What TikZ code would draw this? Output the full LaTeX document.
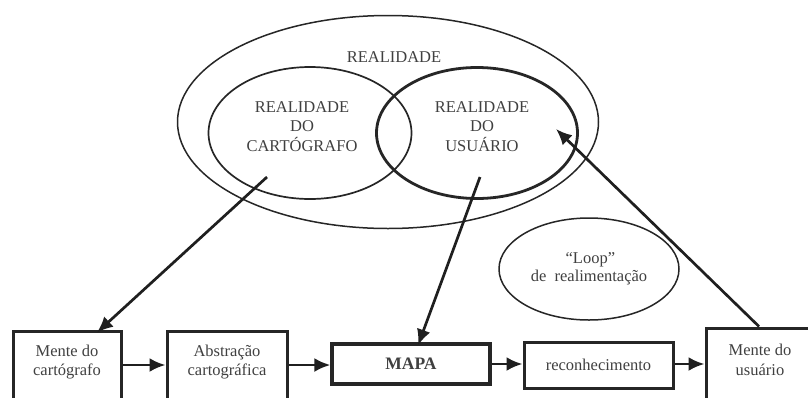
\documentclass[tikz,border=0pt]{standalone}
\usepackage{fontspec}
\setmainfont{Liberation Serif}
\usetikzlibrary{arrows.meta,shapes.geometric}
\begin{document}
\begin{tikzpicture}[x=1pt,y=-1pt,
  txt/.style={text=black!75, font=\fontsize{16.5}{19.5}\selectfont, align=center, inner sep=0pt},
  ell/.style={draw=black!85, ellipse, inner sep=0pt, line width=1.5pt},
  box/.style={draw=black!85, rectangle, line width=3pt, inner sep=0pt},
  arr/.style={draw=black!88, line width=2.7pt, -{Latex[length=16pt,width=14pt]}}]
\useasboundingbox (0,0) rectangle (808,397);
\clip (0,0) rectangle (808,397);
\fill[white] (0,0) rectangle (808,397);
% ellipses
\node[ell, minimum width=421pt, minimum height=213pt] (real) at (388,122) {};
\node[ell, line width=1.7pt, minimum width=203pt, minimum height=132pt] (rc) at (310,133) {};
\node[ell, line width=2.8pt, minimum width=201pt, minimum height=131pt] (ru) at (477,133) {};
\node[ell, minimum width=180pt, minimum height=102pt, txt, draw=black!85] (loop) at (589,269) {\,“Loop”\\[-1pt]de\ \ realimentação};
% ellipse texts
\node[txt] (treal) at (394,57) {REALIDADE};
\node[txt] (trc) at (302,126.5) {REALIDADE\\DO\\CARTÓGRAFO};
\node[txt] (tru) at (482,126.5) {REALIDADE\\DO\\USUÁRIO};
% boxes
\node[box, minimum width=108pt, minimum height=72pt] (b1) at (67,367) {};
\node[txt] (tb1) at (67,362) {Mente do\\cartógrafo};
\node[box, minimum width=120pt, minimum height=72pt] (b2) at (227,367) {};
\node[txt] (tb2) at (227,362) {Abstração\\cartográfica};
\node[box, line width=3.3pt, minimum width=158pt, minimum height=40pt, txt, draw=black!85, font=\fontsize{17.5}{20}\selectfont\bfseries] (mapa) at (411,364) {MAPA};
\node[box, minimum width=149pt, minimum height=46pt, txt, draw=black!85] (rec) at (598.5,365) {reconhecimento};
\node[box, minimum width=106pt, minimum height=76pt] (b5) at (759,366) {};
\node[txt] (tb5) at (760,360) {Mente do\\usuário};
% arrows
\coordinate (s1) at (267,177);
\coordinate (s2) at (480,177);
\coordinate (t3) at (556,129);
\draw[arr] (s1) -- ([xshift=30pt,yshift=-3pt]b1.north);
\draw[arr] (s2) -- ([xshift=7pt,yshift=-3pt]mapa.north);
\draw[arr] (b5.north) -- (t3);
\draw[arr] (b1.east |- 0,365) -- (b2.west |- 0,365);
\draw[arr] (b2.east |- 0,365) -- (mapa.west |- 0,365);
\draw[arr] (mapa.east |- 0,364) -- (rec.west |- 0,364);
\draw[arr] (rec.east |- 0,364) -- (b5.west |- 0,364);
\end{tikzpicture}
\end{document}
